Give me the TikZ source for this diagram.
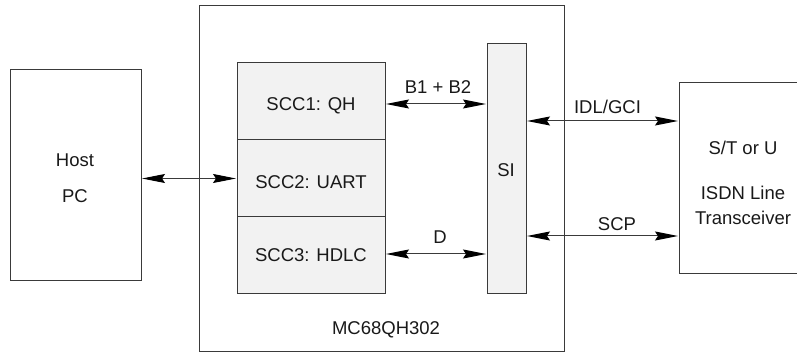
\documentclass[tikz,border=0pt]{standalone}
\usepackage{fontspec}
\setmainfont{Liberation Sans}
\usetikzlibrary{arrows.meta}
\definecolor{lc}{HTML}{3A3A3A}
\definecolor{fillg}{HTML}{F2F2F2}
\tikzset{
  box/.style={draw=lc, line width=1pt, inner sep=0pt, outer sep=0pt},
  lbl/.style={font=\fontsize{18.5}{22}\selectfont, text=black!90, inner sep=0pt},
  conn/.style={draw=lc, line width=1pt, {Stealth[length=23pt,width=9pt,inset=3pt,black]}-{Stealth[length=23pt,width=9pt,inset=3pt,black]}, shorten <=1pt, shorten >=1pt}
}
\begin{document}
\begin{tikzpicture}[x=1pt,y=-1pt]
\useasboundingbox (0,0) rectangle (797,352);
\clip (0,0) rectangle (797,352);
% boxes
\node[box, minimum width=131pt, minimum height=211pt] (host) at (75.5,175.5) {};
\node[box, minimum width=365pt, minimum height=345pt] (chip) at (381.5,178.5) {};
\node[box, fill=fillg, minimum width=148pt, minimum height=77pt] (scc1) at (311,101.5) {};
\node[box, fill=fillg, minimum width=148pt, minimum height=77pt] (scc2) at (311,178.5) {};
\node[box, fill=fillg, minimum width=148pt, minimum height=77pt] (scc3) at (311,255.5) {};
\node[box, fill=fillg, minimum width=39pt, minimum height=250pt] (si) at (506.5,169) {};
\node[box, minimum width=130pt, minimum height=191pt] (trans) at (744,178.5) {};
% texts
\node[lbl] (thost) at (75,160) {Host};
\node[lbl] (tpc) at (75,196) {PC};
\node[lbl] (t1) at (311,106) {SCC1: QH};
\node[lbl] (t2) at (311,182) {SCC2: UART};
\node[lbl] (t3) at (311,255) {SCC3: HDLC};
\node[lbl] (tsi) at (506,170) {SI};
\node[lbl] (tchip) at (386,330) {MC68QH302};
\node[lbl] (tst) at (743,148) {S/T or U};
\node[lbl] (tisdn) at (743,193) {ISDN Line};
\node[lbl] (ttr) at (743,218) {Transceiver};
\node[lbl] (lb) at (438,87) {B1 + B2};
\node[lbl] (ld) at (440,237) {D};
\node[lbl] (lidl) at (607.5,107) {IDL/GCI};
\node[lbl] (lscp) at (617,224) {SCP};
% connectors
\draw[conn] (host.east |- scc2.west) -- (scc2.west);
\draw[conn] ([yshift=-2.5pt]scc1.east) -- ([yshift=-2.5pt]scc1.east -| si.west);
\draw[conn] ([yshift=1.5pt]scc3.east) -- ([yshift=1.5pt]scc3.east -| si.west);
\draw[conn] ([yshift=48pt]si.east) -- ([yshift=48pt]si.east -| trans.west);
\draw[conn] ([yshift=-67pt]si.east) -- ([yshift=-67pt]si.east -| trans.west);
\end{tikzpicture}
\end{document}
